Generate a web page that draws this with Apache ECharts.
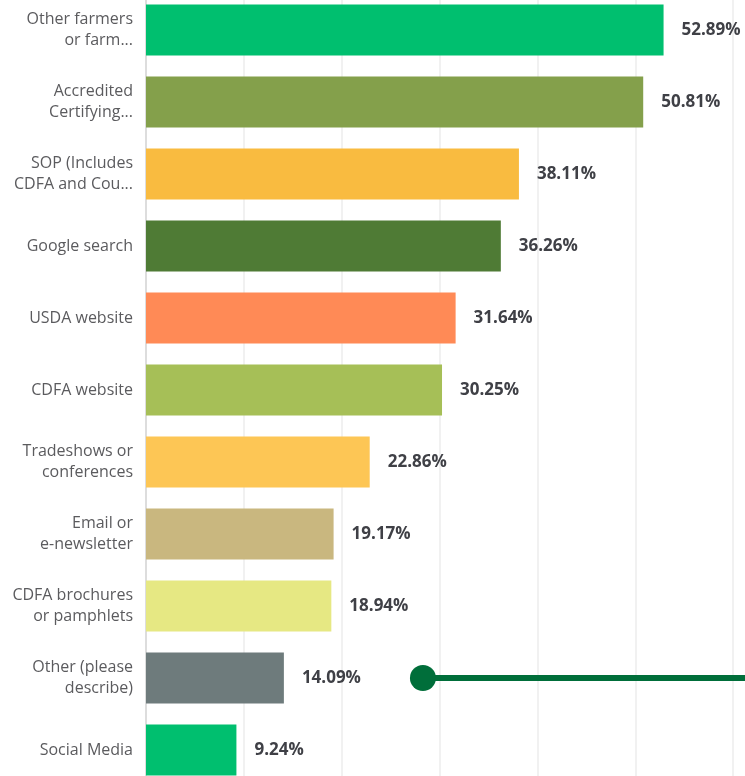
<!DOCTYPE html>
<html>
<head>
<meta charset="utf-8">
<script src="https://cdn.jsdelivr.net/npm/echarts@6/dist/echarts.min.js"></script>
<style>
html,body{margin:0;padding:0;background:#fff;}
#chart{width:745px;height:776px;}
</style>
</head>
<body>
<div id="chart"></div>
<script>
const categories = [
  "Other farmers\nor farm...",
  "Accredited\nCertifying...",
  "SOP (Includes\nCDFA and Cou...",
  "Google search",
  "USDA website",
  "CDFA website",
  "Tradeshows or\nconferences",
  "Email or\ne-newsletter",
  "CDFA brochures\nor pamphlets",
  "Other (please\ndescribe)",
  "Social Media"
];
const values = [52.89, 50.81, 38.11, 36.26, 31.64, 30.25, 22.86, 19.17, 18.94, 14.09, 9.24];
const barColors = ["#00bf6f", "#84a04b", "#f9bb40", "#4f7b35", "#ff8a56", "#a6bf57", "#fdc655", "#c9b77f", "#e6e883", "#6e7b7c", "#00bf6f"];
const annotationCategory = 9;
const annotationStart = 28.3;
const annotationEnd = 70;

const chart = echarts.init(document.getElementById('chart'), null, {renderer: 'canvas'});
chart.setOption({
  animation: false,
  backgroundColor: '#ffffff',
  grid: {left: 146, width: 685, top: -6, height: 792, containLabel: false, outerBoundsMode: 'none'},
  xAxis: {
    type: 'value', min: 0, max: 70, interval: 10,
    axisLabel: {show: false}, axisTick: {show: false}, axisLine: {show: false},
    splitLine: {show: true, lineStyle: {color: '#ececec', width: 1.5}}
  },
  yAxis: {
    type: 'category', data: categories, inverse: true,
    axisTick: {show: false},
    axisLine: {show: true, lineStyle: {color: '#d6d6d6', width: 1.5}},
    axisLabel: {margin: 13, fontFamily: 'Open Sans', fontSize: 16, color: '#5b5b5e', lineHeight: 21, align: 'right'}
  },
  series: [{
    type: 'bar',
    data: values.map((v, i) => ({value: v, itemStyle: {color: barColors[i]}})),
    barWidth: 51,
    label: {show: true, position: 'right', distance: 18, formatter: p => p.value.toFixed(2) + '%',
      fontFamily: 'Open Sans', fontSize: 17, fontWeight: 'bold', color: '#3f4046'},
    markLine: {
      silent: true, symbol: ['circle', 'none'], symbolSize: [26, 26],
      label: {show: false},
      lineStyle: {color: '#006e3a', width: 6, type: 'solid'},
      data: [[{coord: [annotationStart, annotationCategory]}, {coord: [annotationEnd, annotationCategory]}]]
    }
  }]
});
</script>
</body>
</html>
